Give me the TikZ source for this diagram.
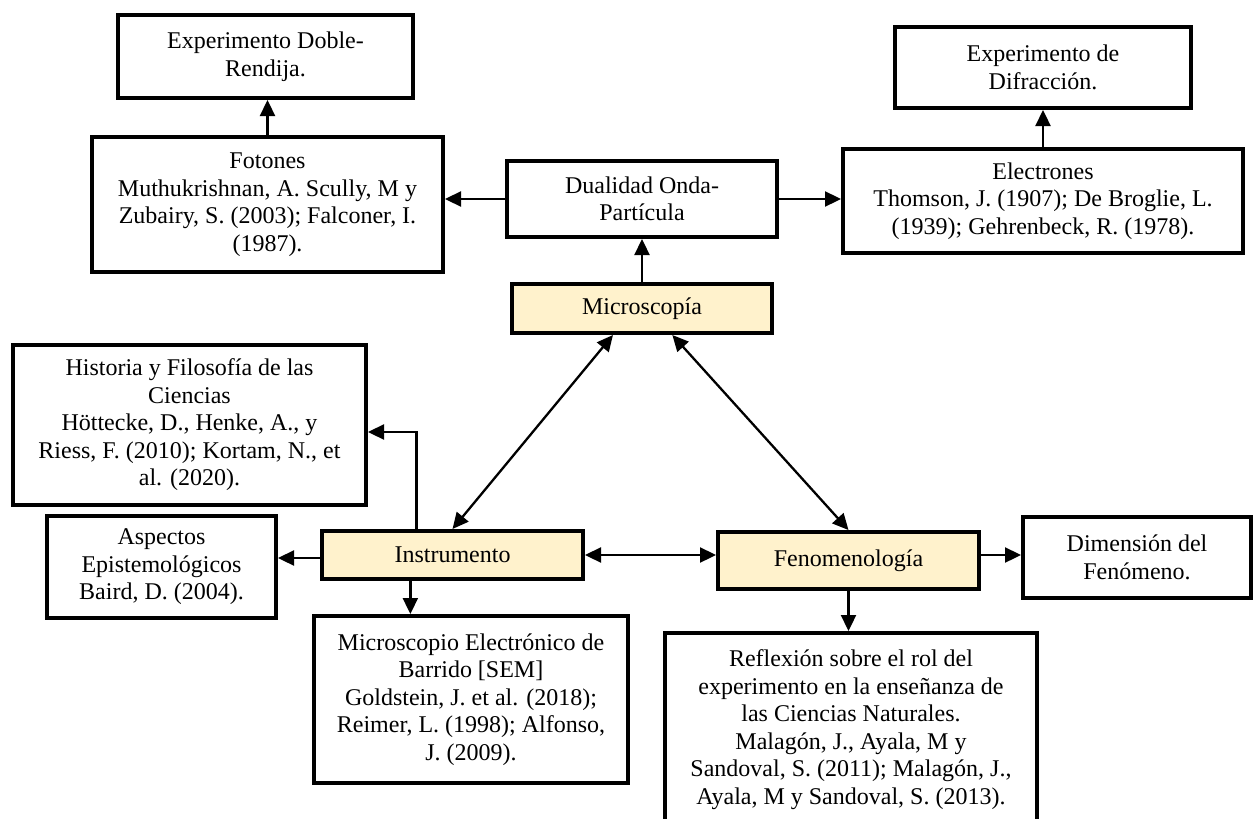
\documentclass[tikz,border=0pt]{standalone}
\usepackage{fontspec}
\setmainfont{Liberation Serif}
\usetikzlibrary{arrows.meta,calc}
\definecolor{boxfill}{HTML}{FFF2CC}
\begin{document}
\begin{tikzpicture}[x=1pt,y=-1pt,
 box/.style={draw=black, line width=4pt, fill=white, align=center, inner sep=0pt, font=\fontsize{24}{27.5}\selectfont},
 key/.style={box, fill=boxfill},
 arr/.style={line width=2.3pt, -{Triangle[length=16pt,width=15pt]}},
 darr/.style={line width=2.3pt, {Triangle[length=16pt,width=15pt]}-{Triangle[length=16pt,width=15pt]}}]
\useasboundingbox (0,0) rectangle (1253,819);
\clip (0,0) rectangle (1253,819);
\fill[white] (0,0) rectangle (1253,819);

\node[box, minimum width=295pt, minimum height=83pt] (doble) at (265.5,56.5) {Experimento Doble-\\Rendija.};
\node[box, minimum width=351pt, minimum height=135pt] (fotones) at (267.5,204.5) {Fotones\\Muthukrishnan, A. Scully, M y\\Zubairy, S. (2003); Falconer, I.\\(1987).};
\node[box, minimum width=270pt, minimum height=76pt] (dualidad) at (642,199) {Dualidad Onda-\\Partícula};
\node[box, minimum width=400pt, minimum height=104pt] (electrones) at (1043,201) {Electrones\\Thomson, J. (1907); De Broglie, L.\\(1939); Gehrenbeck, R. (1978).};
\node[box, minimum width=296pt, minimum height=81pt] (difraccion) at (1043,67.5) {Experimento de\\Difracción.};
\node[key, minimum width=260pt, minimum height=49pt] (micro) at (642,308.5) {Microscopía};
\node[box, minimum width=353pt, minimum height=160pt] (historia) at (189.5,425) {Historia y Filosofía de las\\Ciencias\\Höttecke, D., Henke, A., y\\Riess, F. (2010); Kortam, N., et\\al. (2020).};
\node[box, minimum width=229pt, minimum height=102pt] (aspectos) at (161.5,567) {Aspectos\\Epistemológicos\\Baird, D. (2004).};
\node[key, minimum width=261pt, minimum height=48pt] (instrumento) at (452.5,555) {Instrumento};
\node[box, minimum width=314pt, minimum height=167pt] (sem) at (471,699.5) {Microscopio Electrónico de\\Barrido [SEM]\\Goldstein, J. et al. (2018);\\Reimer, L. (1998); Alfonso,\\J. (2009).};
\node[key, minimum width=261pt, minimum height=57pt] (feno) at (848.5,560.5) {Fenomenología};
\node[box, minimum width=228pt, minimum height=81pt] (dimension) at (1137,557.5) {Dimensión del\\Fenómeno.};
\node[box, minimum width=372pt, minimum height=193pt] (reflexion) at (851,729.5) {Reflexión sobre el rol del\\experimento en la enseñanza de\\las Ciencias Naturales.\\Malagón, J., Ayala, M y\\Sandoval, S. (2011); Malagón, J.,\\Ayala, M y Sandoval, S. (2013).};

\coordinate (mL) at ($(micro.south west)!0.39!(micro.south east)$);
\coordinate (mR) at ($(micro.south west)!0.615!(micro.south east)$);
\coordinate (iH) at ($(instrumento.north west)!0.364!(instrumento.north east)$);
\coordinate (iS) at ($(instrumento.south west)!0.341!(instrumento.south east)$);

\draw[arr] (fotones.north) -- (fotones.north |- doble.south);
\draw[arr] (dualidad.west) -- (dualidad.west -| fotones.east);
\draw[arr] (dualidad.east) -- (dualidad.east -| electrones.west);
\draw[arr] (electrones.north) -- (difraccion.south);
\draw[arr] (micro.north) -- (dualidad.south);
\draw[darr] (mL) -- (instrumento.north);
\draw[darr] (mR) -- (feno.north);
\draw[darr] (instrumento.east) -- (instrumento.east -| feno.west);
\draw[arr] (instrumento.east -| feno.east) -- (instrumento.east -| dimension.west);
\draw[arr] (feno.south) -- (feno.south |- reflexion.north);
\draw[arr] ([yshift=-3pt]instrumento.west) -- ([yshift=-3pt]instrumento.west -| aspectos.east);
\draw[arr] (iH) |- ([yshift=-7pt]historia.east);
\draw[arr] (iS) -- (iS |- sem.north);
\end{tikzpicture}
\end{document}
